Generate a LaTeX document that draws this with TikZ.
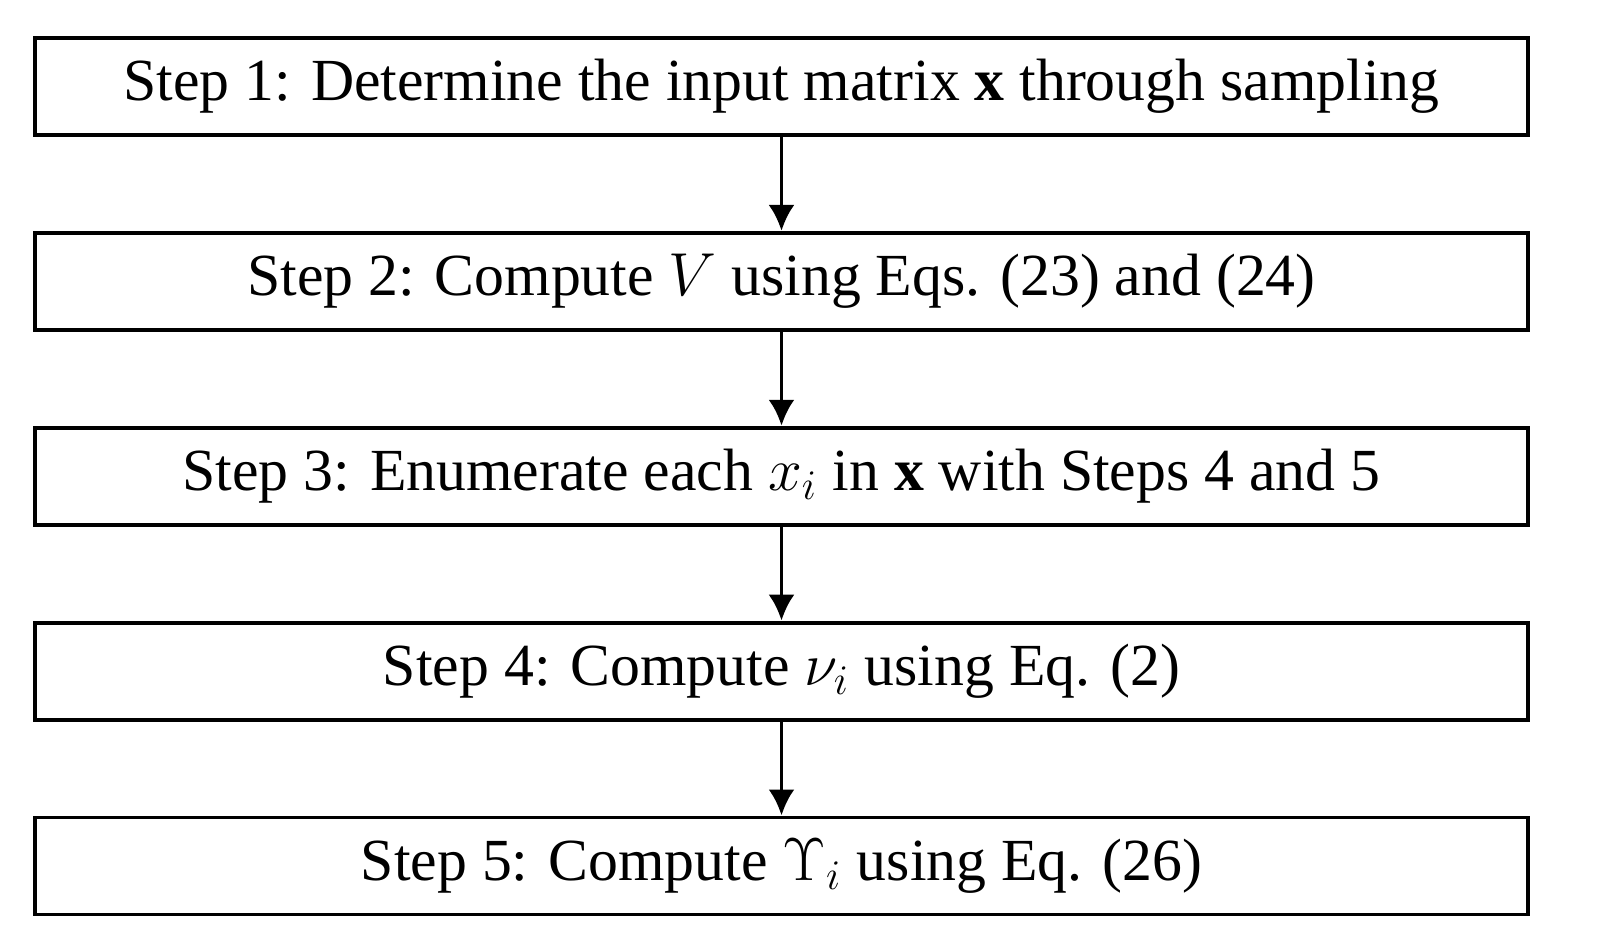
\documentclass[tikz,border=0pt]{standalone}
\usepackage{amsmath}
\usepackage{fontspec}
\setmainfont{Liberation Serif}
\usetikzlibrary{positioning}
\usetikzlibrary{arrows.meta}
\tikzset{>={Latex[width=2.6mm,length=2.6mm]}}

\begin{document}
\begin{tikzpicture}[stepnode/.style={rectangle, draw=black, line width=1.1pt, minimum width=14.93cm, minimum height=0.97cm, inner sep=0pt, font=\fontsize{17}{20}\selectfont}]
    \useasboundingbox (0,0) rectangle (15.97,9.5);

    %Nodes
    \node[stepnode](step1) at (7.815,8.635){Step 1: Determine the input matrix \textbf{x} through sampling};
    \node[stepnode](step2)[below=0.94cm of step1]{Step 2: Compute $V$ using Eqs. (23) and (24)};
    \node[stepnode](step3)[below=0.94cm of step2]{Step 3: Enumerate each $x_i$ in \textbf{x} with Steps 4 and 5};
    \node[stepnode](step4)[below=0.94cm of step3]{Step 4: Compute $\nu_i$ using Eq. (2)};
    \node[stepnode](step5)[below=0.94cm of step4]{Step 5: Compute $\Upsilon_i$ using Eq. (26)};

    %Lines
    \draw[->, line width=1.1pt] (step1.south) -- (step2.north);
    \draw[->, line width=1.1pt] (step2.south) -- (step3.north);
    \draw[->, line width=1.1pt] (step3.south) -- (step4.north);
    \draw[->, line width=1.1pt] (step4.south) -- (step5.north);

\end{tikzpicture}
\end{document}
